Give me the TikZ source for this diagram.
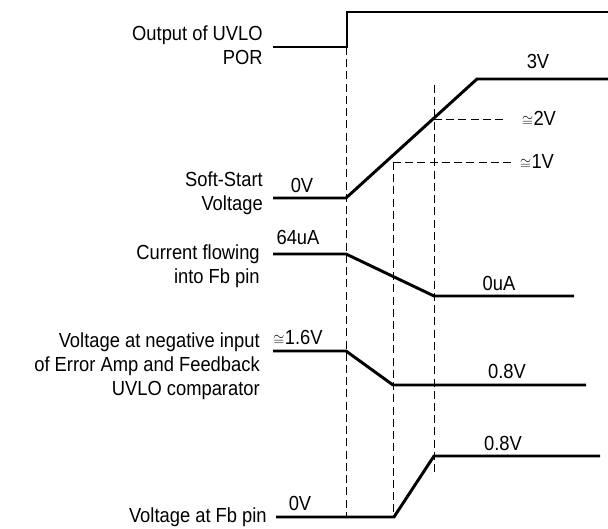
\documentclass[tikz,border=0pt]{standalone}
\usepackage{fontspec}
\setmainfont{Liberation Sans}[FakeStretch=0.9]
\usepackage{amsmath}
\usepackage{graphicx}
\newcommand\approxsym{\scalebox{0.7}{$\cong$}\kern0.3pt}

\tikzset{
	wave/.style={line width=2.1pt,line join=miter},
	guide/.style={line width=0.7pt,dash pattern=on 5.7pt off 3pt},
	lbl/.style={font=\fontsize{14.5}{17}\selectfont,inner sep=0pt},
	caption/.style={lbl,anchor=east,align=right}
}

\begin{document}
\begin{tikzpicture}[x=0.25mm,y=-0.25mm]
			\useasboundingbox (0,0) rectangle (608,529);
			\foreach \x/\ya/\yb in {346/47/517,393/162/517,434/85/474}{
				\draw[guide] (\x,\ya) -- (\x,\yb);
			}
			\draw[guide] (434,119) -- (507,119);
			\draw[guide] (393,162) -- (513,162);
			\draw[wave] (273,47) -- (347,47) -- (347,12) -- (608,12);
			\draw[wave] (273,198) -- (346,198) -- (477,79) -- (608,79);
			\draw[wave] (273,254) -- (346,254) -- (434,296) -- (574,296);
			\draw[wave] (273,351) -- (346,351) -- (393,385) -- (586,385);
			\draw[wave] (276,517) -- (394,517) -- (434,456) -- (600,456);
			\node[caption] (por) at (263,45) {Output of UVLO\\POR};
			\node[caption] (softstart) at (263,193) {Soft-Start\\Voltage};
			\node[caption] (fbcurrent) at (260,266) {Current flowing\\into Fb pin};
			\node[caption] (erramp) at (260,366) {Voltage at negative input\\of Error Amp and Feedback\\UVLO comparator};
			\node[caption] (fbpin) at (267,517) {Voltage at Fb pin};
			\node[lbl] (ss0) at (302,185) {0V};
			\node[lbl] (ss3) at (538,61) {3V};
			\node[lbl] (ss2) at (539,119) {\approxsym2V};
			\node[lbl] (ss1) at (537,162) {\approxsym1V};
			\node[lbl] (ihigh) at (298,237) {64uA};
			\node[lbl] (ilow) at (499,283) {0uA};
			\node[lbl] (vhigh) at (298,338) {\approxsym1.6V};
			\node[lbl] (vlow) at (507,371) {0.8V};
			\node[lbl] (fb0) at (300,503) {0V};
			\node[lbl] (fb8) at (503,443) {0.8V};
		\end{tikzpicture}
\end{document}
